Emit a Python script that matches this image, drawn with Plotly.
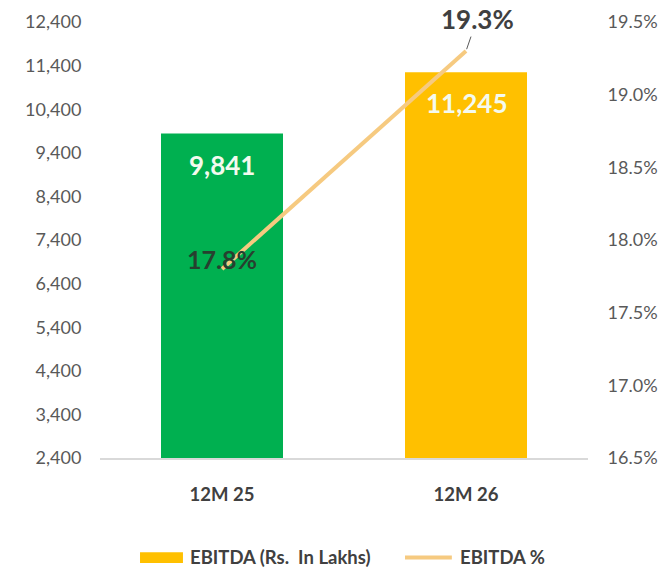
import plotly.graph_objects as go

# EBITDA comparison data
periods = ["12M 25", "12M 26"]
ebitda_lakhs = [9841, 11245]
ebitda_pct = [17.8, 19.3]
bar_colors = ["#00B050", "#FFC000"]

amount_ticks = [2400, 3400, 4400, 5400, 6400, 7400, 8400, 9400, 10400, 11400, 12400]
pct_ticks = [16.5, 17.0, 17.5, 18.0, 18.5, 19.0, 19.5]
pct_tick_text = [f"{t:.1f}%" for t in pct_ticks]

FONT = "Lato"
TICK_COLOR = "#595959"
DARK = "#404040"
LINE_COLOR = "#F6CA80"

fig = go.Figure()

fig.add_trace(go.Bar(
    x=periods, y=ebitda_lakhs,
    marker=dict(color=bar_colors, line=dict(width=0)),
    name="EBITDA (Rs.  In Lakhs)",
    showlegend=False,
    hoverinfo="skip",
))

fig.add_trace(go.Scatter(
    x=periods, y=ebitda_pct, yaxis="y2",
    mode="lines",
    line=dict(color=LINE_COLOR, width=4),
    name="EBITDA %",
    showlegend=False,
    hoverinfo="skip",
))

# Value labels inside the bars
for p, v in zip(periods, ebitda_lakhs):
    fig.add_annotation(
        x=p, y=v, xref="x", yref="y",
        text=f"{v:,}", showarrow=False,
        yanchor="top", yshift=-13,
        font=dict(family=FONT, size=26, color="#F4FAEF", weight="bold"),
    )

# Percentage labels
fig.add_annotation(
    x=periods[0], y=ebitda_pct[0], xref="x", yref="y2",
    text=f"{ebitda_pct[0]:.1f}%", showarrow=False,
    yshift=10,
    font=dict(family=FONT, size=25, color="#27402F", weight="bold"),
)
fig.add_annotation(
    x=periods[1], y=ebitda_pct[1], xref="x", yref="y2",
    text=f"{ebitda_pct[1]:.1f}%", showarrow=True,
    arrowhead=0, arrowwidth=1, arrowcolor="#595959",
    ax=11, ay=-32, standoff=2,
    font=dict(family=FONT, size=26, color=DARK, weight="bold"),
)

# Legend drawn below the category labels
fig.add_shape(type="rect", xref="paper", yref="paper",
              x0=0.082, x1=0.170, y0=-0.241, y1=-0.216,
              fillcolor="#FFC000", line=dict(width=0))
fig.add_annotation(xref="paper", yref="paper", x=0.180, y=-0.228,
                   xanchor="left", yanchor="middle", showarrow=False,
                   text="EBITDA (Rs.&nbsp; In Lakhs)",
                   font=dict(family=FONT, size=18.5, color=DARK, weight="bold"))
fig.add_shape(type="line", xref="paper", yref="paper",
              x0=0.625, x1=0.721, y0=-0.228, y1=-0.228,
              line=dict(color=LINE_COLOR, width=4))
fig.add_annotation(xref="paper", yref="paper", x=0.734, y=-0.228,
                   xanchor="left", yanchor="middle", showarrow=False,
                   text="EBITDA %",
                   font=dict(family=FONT, size=18.5, color=DARK, weight="bold"))

fig.update_layout(
    width=661, height=570,
    margin=dict(l=100, r=73, t=22, b=112, autoexpand=False),
    paper_bgcolor="white", plot_bgcolor="white",
    bargap=0.5,
    showlegend=False,
    font=dict(family=FONT),
    xaxis=dict(
        automargin=False,
        showgrid=False, zeroline=False,
        showline=True, linecolor="#D9D9D9", linewidth=1.5,
        ticks="outside", ticklen=19, tickcolor="rgba(0,0,0,0)",
        tickfont=dict(family=FONT, size=18.5, color=DARK, weight="bold"),
    ),
    yaxis=dict(
        automargin=False,
        range=[2400, 12400], tickvals=amount_ticks,
        tickformat=",d",
        showgrid=False, zeroline=False, showline=False,
        ticks="outside", ticklen=14, tickcolor="rgba(0,0,0,0)",
        tickfont=dict(family=FONT, size=18, color=TICK_COLOR),
    ),
    yaxis2=dict(
        automargin=False,
        overlaying="y", side="right",
        range=[16.5, 19.5], tickvals=pct_ticks, ticktext=pct_tick_text,
        showgrid=False, zeroline=False, showline=False,
        ticks="outside", ticklen=15, tickcolor="rgba(0,0,0,0)",
        tickfont=dict(family=FONT, size=18, color=TICK_COLOR),
    ),
)

fig.write_html("out.html")
